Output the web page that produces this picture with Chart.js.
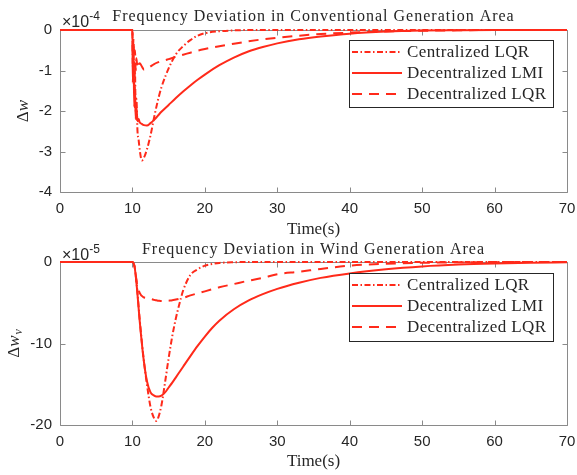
<!DOCTYPE html>
<html><head><meta charset="utf-8">
<script src="https://cdn.jsdelivr.net/npm/chart.js@4"></script>
<style>html,body{margin:0;padding:0;background:#fff;overflow:hidden}.w{position:absolute;left:0}</style>
</head><body>
<div class="w" style="top:0"><canvas id="c1" width="577" height="250"></canvas></div>
<div class="w" style="top:237px"><canvas id="c2" width="577" height="238"></canvas></div>
<script>
// ---------- data ----------
const seriesNames = ['Centralized LQR', 'Decentralized LMI', 'Decentralized LQR'];
const xTicks = [0, 10, 20, 30, 40, 50, 60, 70];

// Conventional area (units of 1e-4)
const titleTop = 'Frequency Deviation in Conventional Generation Area';
const yTicksTop = [0, -1, -2, -3, -4];
const timeTop = [0,10,10.05,10.15,10.25,10.35,10.45,10.55,10.7,10.85,11,11.3,11.6,12,12.5,13,13.5,14,15,16,17,18,19,20,22,24,26,28,30,33,36,40,45,50,55,60,65,70];
const centralTop = [0,0,-0.9,-0.4,-1.5,-1.0,-2.0,-1.7,-2.5,-2.7,-2.95,-3.22,-3.15,-2.95,-2.6,-2.15,-1.75,-1.42,-0.95,-0.6,-0.4,-0.25,-0.14,-0.08,-0.03,-0.01,0,0,0,0,0,0,0,0,0,0,0,0];
const lmiTop = [0,0,-1.3,-0.7,-1.9,-1.4,-2.2,-1.9,-2.25,-2.2,-2.28,-2.32,-2.35,-2.36,-2.3,-2.22,-2.12,-2.02,-1.85,-1.68,-1.52,-1.37,-1.23,-1.1,-0.87,-0.68,-0.53,-0.42,-0.33,-0.23,-0.16,-0.09,-0.04,-0.015,-0.005,0,0,0];
const lqrTop = [0,0,-0.6,-0.2,-0.9,-0.5,-1.0,-0.7,-0.95,-0.85,-0.82,-0.9,-0.98,-0.96,-0.9,-0.84,-0.8,-0.77,-0.72,-0.66,-0.61,-0.56,-0.51,-0.47,-0.4,-0.34,-0.28,-0.23,-0.19,-0.14,-0.1,-0.065,-0.035,-0.018,-0.008,0,0,0];

// Wind area (units of 1e-5)
const titleBottom = 'Frequency Deviation in Wind Generation Area';
const yTicksBottom = [0, -10, -20];
const timeBottom = [0,10,10.3,10.6,11,11.5,12,12.5,13,13.3,13.6,14,14.5,15,15.5,16,16.5,17,18,19,20,21,22,24,26,28,30,33,36,40,45,50,55,60,65,70];
const centralBottom = [0,0,-0.6,-2.8,-7.0,-11.5,-15.0,-17.8,-19.2,-19.5,-19.0,-17.6,-14.8,-11.8,-9.1,-6.9,-5.1,-3.5,-1.6,-0.9,-0.45,-0.25,-0.12,-0.03,0,0,0,0,0,0,0,0,0,0,0,0];
const lmiBottom = [0,0,-0.6,-3.0,-7.2,-11.6,-14.6,-16.0,-16.4,-16.5,-16.5,-16.4,-16.0,-15.4,-14.8,-14.15,-13.5,-12.85,-11.55,-10.3,-9.15,-8.1,-7.2,-5.8,-4.75,-3.95,-3.3,-2.55,-1.95,-1.4,-0.9,-0.55,-0.32,-0.18,-0.09,-0.04];
const lqrBottom = [0,0,-0.6,-2.5,-3.8,-4.3,-4.4,-4.5,-4.65,-4.7,-4.75,-4.8,-4.8,-4.75,-4.7,-4.6,-4.5,-4.4,-4.1,-3.85,-3.6,-3.35,-3.1,-2.7,-2.3,-1.95,-1.5,-1.2,-0.85,-0.45,-0.22,-0.1,-0.04,-0.01,0,0];

// ---------- styling ----------
const RED = '#ff2a1a';
const dashes = [[6,2.5,1.5,2.5], [], [10,7]];
const AX = '#8a8a8a', TXT = '#262626';

function pts(t, v){ return t.map((x,i)=>({x:x, y:v[i]})); }

function makeChart(id, o){
  const datasets = o.series.map((v,i)=>({
    label: seriesNames[i], data: pts(o.time, v),
    borderColor: RED, backgroundColor: RED, borderWidth: 2,
    borderDash: dashes[i], pointRadius: 0, fill: false,
    cubicInterpolationMode: 'monotone', clip: false
  }));
  const deco = {
    id: 'deco',
    beforeDatasetsDraw(chart){
      const {ctx, chartArea:a, scales:{x,y}} = chart;
      ctx.save();
      ctx.strokeStyle = AX; ctx.lineWidth = 1;
      const L = Math.round(a.left)+0.5, R = Math.round(a.right)+0.5, T = Math.round(a.top)+0.5, B = Math.round(a.bottom)+0.5;
      ctx.beginPath();
      ctx.rect(L, T, R-L, B-T);
      x.ticks.forEach(t=>{ const p = Math.round(x.getPixelForValue(t.value))+0.5; ctx.moveTo(p,B); ctx.lineTo(p,B-5); ctx.moveTo(p,T); ctx.lineTo(p,T+5); });
      y.ticks.forEach(t=>{ const p = Math.round(y.getPixelForValue(t.value))+0.5; ctx.moveTo(L,p); ctx.lineTo(L+5,p); ctx.moveTo(R,p); ctx.lineTo(R-5,p); });
      ctx.stroke();
      ctx.restore();
    },
    afterDatasetsDraw(chart){
      const ctx = chart.ctx, lg = o.legend;
      ctx.save();
      ctx.fillStyle = '#fff';
      ctx.fillRect(lg.x0, lg.y0, lg.x1-lg.x0, lg.y1-lg.y0);
      ctx.strokeStyle = TXT; ctx.lineWidth = 1;
      ctx.strokeRect(lg.x0+0.5, lg.y0+0.5, lg.x1-lg.x0, lg.y1-lg.y0);
      chart.data.datasets.forEach((d,i)=>{
        const yy = lg.rows[i];
        ctx.strokeStyle = d.borderColor; ctx.lineWidth = d.borderWidth;
        ctx.setLineDash(d.borderDash);
        ctx.beginPath(); ctx.moveTo(lg.x0+3, yy); ctx.lineTo(lg.x0+53, yy); ctx.stroke();
        ctx.setLineDash([]);
        ctx.fillStyle = TXT; ctx.font = '17px "Liberation Serif"';
        try { ctx.letterSpacing = '0.4px'; } catch(e) {}
        ctx.textBaseline = 'middle'; ctx.textAlign = 'left';
        ctx.fillText(d.label, lg.x0+58, yy+1);
        try { ctx.letterSpacing = '0px'; } catch(e) {}
      });
      ctx.restore();
    },
    afterDraw(chart){
      const {ctx, chartArea:a} = chart;
      ctx.save();
      // title
      ctx.fillStyle = TXT; ctx.font = '16px "Liberation Serif"';
      ctx.textAlign = 'center'; ctx.textBaseline = 'alphabetic';
      try { ctx.letterSpacing = '1px'; } catch(e) {}
      ctx.fillText(o.title, (a.left+a.right)/2, o.titleY);
      try { ctx.letterSpacing = '0px'; } catch(e) {}
      // exponent
      ctx.textAlign = 'left';
      ctx.font = '16px "Liberation Sans"';
      ctx.fillText('\u00d710', a.left+2, o.expY);
      const w = ctx.measureText('\u00d710').width;
      ctx.font = '12px "Liberation Sans"';
      ctx.fillText(o.exp, a.left+2+w, o.expY-7);
      // y label
      ctx.translate(o.ylabX, (a.top+a.bottom)/2);
      ctx.rotate(-Math.PI/2);
      const f1 = '17px "Liberation Serif"', f2 = 'italic 17px "Liberation Serif"', f3 = 'italic 12px "Liberation Serif"';
      ctx.font = f1; const w1 = ctx.measureText('\u0394').width;
      ctx.font = f2; const w2 = ctx.measureText('w').width;
      ctx.font = f3; const w3 = o.sub ? ctx.measureText(o.sub).width + 1 : 0;
      let u = -(w1+w2+w3)/2;
      ctx.textAlign = 'left'; ctx.textBaseline = 'alphabetic';
      ctx.font = f1; ctx.fillText('\u0394', u, 0); u += w1;
      ctx.font = f2; ctx.fillText('w', u, 0); u += w2;
      if (o.sub){ ctx.font = f3; ctx.fillText(o.sub, u+1, 3); }
      ctx.restore();
    }
  };
  const tickFont = {family: 'Liberation Sans', size: 15};
  return new Chart(document.getElementById(id), {
    type: 'line',
    data: { datasets },
    options: {
      responsive: false, animation: false, devicePixelRatio: 1,
      layout: { padding: { top: o.padTop, right: 0, left: 0, bottom: 0 } },
      plugins: { legend: {display:false}, title: {display:false}, tooltip: {enabled:false} },
      scales: {
        x: {
          type: 'linear', min: 0, max: 70,
          afterBuildTicks: s => { s.ticks = xTicks.map(v=>({value:v})); },
          ticks: { color: TXT, font: tickFont, padding: 8, maxRotation: 0, autoSkip: false },
          grid: { display: false, drawTicks: false }, border: { display: false },
          title: { display: true, text: 'Time(s)', color: TXT, font: {family:'Liberation Serif', size:17}, padding: {top:0, bottom:o.xTitlePad} },
          afterFit: s => { s.height = o.xH; s.paddingRight = 10; s.paddingLeft = 0; }
        },
        y: {
          type: 'linear', min: o.ymin, max: 0,
          afterBuildTicks: s => { s.ticks = o.yTicks.map(v=>({value:v})); },
          ticks: { color: TXT, font: tickFont, padding: 8, autoSkip: false },
          grid: { display: false, drawTicks: false }, border: { display: false },
          afterFit: s => { s.width = 60; }
        }
      }
    },
    plugins: [deco]
  });
}

makeChart('c1', {
  time: timeTop, series: [centralTop, lmiTop, lqrTop], yTicks: yTicksTop, ymin: -4,
  title: titleTop, titleY: 20.5, exp: '-4', expY: 26.5, ylabX: 28, sub: null,
  padTop: 30, xH: 58, xTitlePad: 10,
  legend: {x0: 349, x1: 553, y0: 40, y1: 107, rows: [52, 73, 94]}
});
makeChart('c2', {
  time: timeBottom, series: [centralBottom, lmiBottom, lqrBottom], yTicks: yTicksBottom, ymin: -20,
  title: titleBottom, titleY: 16.5, exp: '-5', expY: 23, ylabX: 19, sub: 'v',
  padTop: 25, xH: 50, xTitlePad: 3,
  legend: {x0: 349, x1: 553, y0: 36, y1: 104, rows: [48, 69, 90]}
});
</script>
</body></html>
